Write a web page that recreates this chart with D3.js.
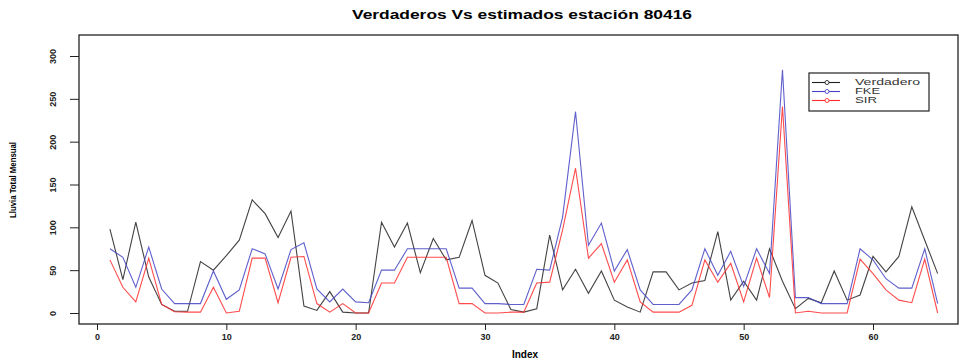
<!DOCTYPE html>
<html>
<head>
<meta charset="utf-8">
<script src="https://cdn.jsdelivr.net/npm/d3@7"></script>
<style>
  body { margin: 0; background: #fff; }
  svg { display: block; font-family: "Liberation Sans", Arial, sans-serif; }
</style>
</head>
<body>
<div id="chart"></div>
<script>
// observed vs estimated monthly rainfall, station 80416
const verdadero = [98, 39, 106, 42, 10, 2, 2, 60, 50, 67, 85, 132, 116, 88, 119, 8, 3, 25, 1, 0, 0, 106, 77, 105, 47, 87, 62, 65, 108, 44,
  35, 4, 1, 5, 91, 27, 51, 23, 49, 15, 7, 1, 48, 48, 27, 35, 38, 95, 15, 37, 15, 75, 37, 5, 17, 12, 49, 15, 21, 66,
  48, 66, 124, 85, 46];
const fke = [75, 65, 30, 77, 28, 11, 11, 11, 49, 16, 27, 75, 69, 28, 74, 82, 28, 13, 28, 13, 12, 50, 50, 75, 75, 75, 75, 29, 29, 11,
  11, 10, 10, 51, 50, 112, 235, 79, 105, 49, 74, 27, 10, 10, 10, 27, 75, 44, 72, 31, 75, 46, 284, 18, 18, 11, 11, 11, 75, 62,
  40, 29, 29, 75, 11];
const sir = [62, 30, 13, 64, 10, 1.5, 1, 1, 30, 0, 2, 64, 64, 12, 65, 66, 11, 1, 11, 0, 0, 35, 35, 65, 65, 65, 65, 11, 11, 0,
  0, 1, 1, 35, 36, 97, 169, 64, 81, 36, 62, 13, 1, 1, 1, 9, 62, 36, 58, 13, 64, 18, 241, 0, 2, 0, 0, 0, 63, 46,
  27, 15, 12, 63, 0];
const xTicks = [0, 10, 20, 30, 40, 50, 60];
const yTicks = [0, 50, 100, 150, 200, 250, 300];
const seriesNames = ['Verdadero', 'FKE', 'SIR'];
const seriesColors = ['#222', '#4444c4', '#ff2b2b'];

const width = 960, height = 362;
const box = { left: 79, right: 958, top: 35, bottom: 324 };

const svg = d3.select('#chart').append('svg')
  .attr('width', width).attr('height', height);

const x = d3.scaleLinear().domain([0, 60]).range([97, 873]);
const y = d3.scaleLinear().domain([0, 300]).range([313, 56]);

// title
svg.append('text')
  .attr('x', 522).attr('y', 19)
  .attr('text-anchor', 'middle')
  .attr('textLength', 340).attr('lengthAdjust', 'spacingAndGlyphs')
  .style('font-size', '12px').style('font-weight', 'bold')
  .text('Verdaderos Vs estimados estación 80416');

// plot box
svg.append('rect')
  .attr('x', box.left).attr('y', box.top)
  .attr('width', box.right - box.left).attr('height', box.bottom - box.top)
  .attr('fill', 'none').attr('stroke', '#222').attr('stroke-width', 1.3);

// axes
const xAxis = svg.append('g')
  .attr('transform', `translate(0,${box.bottom})`)
  .call(d3.axisBottom(x).tickValues(xTicks).tickSize(6).tickPadding(4).tickFormat(d3.format('d')));
xAxis.select('.domain').remove();
xAxis.selectAll('text').style('font-size', '9px').style('font-weight', 'bold').attr('fill', '#222');
xAxis.selectAll('line').attr('stroke', '#222');

const yAxis = svg.append('g')
  .attr('transform', `translate(${box.left},0)`)
  .call(d3.axisLeft(y).tickValues(yTicks).tickSize(9).tickFormat(d3.format('d')));
yAxis.select('.domain').remove();
yAxis.selectAll('line').attr('stroke', '#222');
yAxis.selectAll('text')
  .attr('x', null).attr('dy', null)
  .attr('text-anchor', 'middle')
  .attr('transform', 'translate(-26,0) rotate(-90)')
  .attr('y', 0).attr('dy', '0.35em')
  .style('font-size', '9px').style('font-weight', 'bold').attr('fill', '#222');

// axis titles
svg.append('text')
  .attr('x', 525).attr('y', 358)
  .attr('text-anchor', 'middle')
  .style('font-size', '10px').style('font-weight', 'bold')
  .text('Index');

svg.append('text')
  .attr('transform', 'translate(16,180) rotate(-90)')
  .attr('text-anchor', 'middle')
  .attr('textLength', 76).attr('lengthAdjust', 'spacingAndGlyphs')
  .style('font-size', '9px').style('font-weight', 'bold')
  .text('Lluvia Total Mensual');

// series lines
const line = d3.line().x((d, i) => x(i + 1)).y(d => y(d));
[verdadero, fke, sir].forEach((s, k) => {
  svg.append('path')
    .datum(s)
    .attr('fill', 'none')
    .attr('stroke', seriesColors[k])
    .attr('stroke-width', 1.1)
    .attr('stroke-opacity', 0.85)
    .attr('d', line);
});

// legend
const lg = svg.append('g');
lg.append('rect')
  .attr('x', 809).attr('y', 73).attr('width', 120).attr('height', 38)
  .attr('fill', '#fff').attr('stroke', '#222').attr('stroke-width', 1.2);
seriesNames.forEach((name, k) => {
  const ly = 82.5 + k * 9;
  lg.append('line')
    .attr('x1', 812).attr('x2', 840).attr('y1', ly).attr('y2', ly)
    .attr('stroke', seriesColors[k]).attr('stroke-width', 1.1);
  lg.append('circle')
    .attr('cx', 827).attr('cy', ly).attr('r', 2)
    .attr('fill', '#fff').attr('stroke', seriesColors[k]).attr('stroke-width', 0.9);
  lg.append('text')
    .attr('x', 855).attr('y', ly).attr('dy', '0.35em')
    .attr('textLength', [65, 25, 22][k]).attr('lengthAdjust', 'spacingAndGlyphs')
    .style('font-size', '8.5px').attr('fill', '#333')
    .text(name);
});
</script>
</body>
</html>
